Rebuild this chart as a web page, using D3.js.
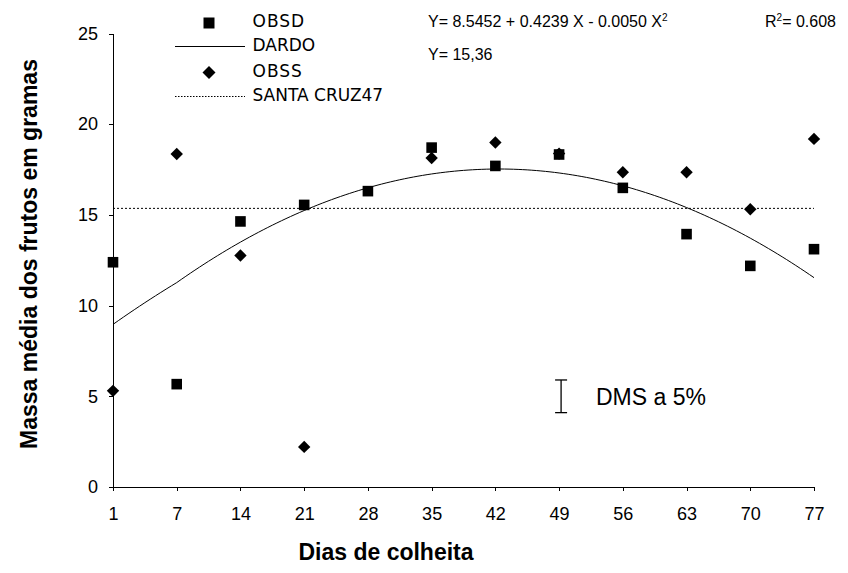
<!DOCTYPE html>
<html>
<head>
<meta charset="utf-8">
<script src="https://cdn.jsdelivr.net/npm/d3@7"></script>
<style>
  html, body { margin: 0; padding: 0; background: #fff; }
  svg { display: block; }
</style>
</head>
<body>
<svg id="chart" width="848" height="573"></svg>
<script>
// Harvest days (category axis) and observed mean fruit mass (g)
const days = [1, 7, 14, 21, 28, 35, 42, 49, 56, 63, 70, 77];
const obsd = [12.39, 5.67, 14.64, 15.55, 16.31, 18.71, 17.70, 18.33, 16.49, 13.94, 12.19, 13.11];
const obss = [5.30, 18.36, 12.76, 2.21, null, 18.14, 18.99, 18.38, 17.35, 17.35, 15.31, 19.19];

// Quadratic fit for DARDO: Y = a + bX + cX²
const fitCoef = [8.5452, 0.4239, -0.0050];
// Mean for SANTA CRUZ 47
const santaCruzMean = 15.36;
// Least significant difference (DMS) at 5%, and where its bar is centred
const dms = 1.8;
const dmsCenter = 5;
const dmsDay = 49;

const yTicks = [0, 5, 10, 15, 20, 25];

const svg = d3.select("#chart");
svg.append("rect").attr("width", 848).attr("height", 573).attr("fill", "#fff");

const x = d3.scalePoint().domain(days).range([113, 814]);
const y = d3.scaleLinear().domain([0, 25]).range([487, 33.5]);
// Map a (fractional) day onto the category positions
const xDay = d3.scaleLinear().domain(days).range(days.map(d => x(d)));

const arial = "'Liberation Sans', Arial, sans-serif";

// Axes
const yAxis = svg.append("g")
  .attr("transform", "translate(113,0)")
  .call(d3.axisLeft(y).tickValues(yTicks).tickSize(4).tickSizeOuter(0).tickPadding(11));
const xAxis = svg.append("g")
  .attr("transform", "translate(0,487)")
  .call(d3.axisBottom(x).tickSize(4).tickSizeOuter(0).tickPadding(16));
[yAxis, xAxis].forEach(g => {
  g.selectAll("path, line").attr("stroke", "#000").attr("stroke-width", 1).attr("shape-rendering", "crispEdges");
  g.selectAll("text").attr("fill", "#000").style("font-family", arial).style("font-size", "18px");
});

// SANTA CRUZ 47 mean (dotted)
svg.append("line")
  .attr("x1", x(days[0])).attr("x2", x(days[days.length - 1]))
  .attr("y1", y(santaCruzMean)).attr("y2", y(santaCruzMean))
  .attr("stroke", "#000").attr("stroke-width", 1)
  .attr("stroke-dasharray", "2,2");

// DARDO fitted curve
const fit = X => fitCoef[0] + fitCoef[1] * X + fitCoef[2] * X * X;
const curveX = d3.range(days[0], days[days.length - 1] + 0.001, 0.5);
svg.append("path")
  .datum(curveX)
  .attr("fill", "none").attr("stroke", "#000").attr("stroke-width", 1)
  .attr("d", d3.line().x(d => xDay(d)).y(d => y(fit(d))));

// Markers
const squarePath = s => `M${-s},${-s}H${s}V${s}H${-s}Z`;
const diamondPath = r => `M0,${-r}L${r},0L0,${r}L${-r},0Z`;

svg.append("g").selectAll("path")
  .data(days.map((d, i) => ({ d, v: obsd[i] })).filter(p => p.v != null))
  .join("path")
  .attr("transform", p => `translate(${x(p.d)},${y(p.v)})`)
  .attr("d", squarePath(5.3))
  .attr("fill", "#000");

svg.append("g").selectAll("path")
  .data(days.map((d, i) => ({ d, v: obss[i] })).filter(p => p.v != null))
  .join("path")
  .attr("transform", p => `translate(${x(p.d)},${y(p.v)})`)
  .attr("d", diamondPath(6.2))
  .attr("fill", "#000");

// DMS error bar
const bx = x(dmsDay) + 2;
const bTop = y(dmsCenter + dms / 2), bBot = y(dmsCenter - dms / 2);
const bar = svg.append("g").attr("stroke", "#000").attr("stroke-width", 1.3);
bar.append("line").attr("x1", bx).attr("x2", bx).attr("y1", bTop).attr("y2", bBot);
bar.append("line").attr("x1", bx - 6).attr("x2", bx + 6).attr("y1", bTop).attr("y2", bTop);
bar.append("line").attr("x1", bx - 6).attr("x2", bx + 6).attr("y1", bBot).attr("y2", bBot);
svg.append("text").attr("x", 596).attr("y", 405)
  .style("font-family", arial).style("font-size", "23px").text("DMS a 5%");

// Legend
const dejavu = "'DejaVu Sans', Verdana, sans-serif";
const leg = svg.append("g");
leg.append("path").attr("transform", "translate(209,23)").attr("d", squarePath(5.5)).attr("fill", "#000");
leg.append("line").attr("x1", 175).attr("x2", 245).attr("y1", 46.5).attr("y2", 46.5).attr("stroke", "#000");
leg.append("path").attr("transform", "translate(209,72.5)").attr("d", diamondPath(6.5)).attr("fill", "#000");
leg.append("line").attr("x1", 175).attr("x2", 245).attr("y1", 96.5).attr("y2", 96.5)
  .attr("stroke", "#000").attr("stroke-dasharray", "1.5,1.5");
const legendLabels = [
  { t: "OBSD", y: 27, ls: 1 },
  { t: "DARDO", y: 50.5, ls: 0 },
  { t: "OBSS", y: 77, ls: 1 },
  { t: "SANTA CRUZ47", y: 101, ls: 0 }
];
leg.selectAll("text").data(legendLabels).join("text")
  .attr("x", 252.5).attr("y", d => d.y)
  .style("font-family", dejavu).style("font-size", "17px")
  .style("letter-spacing", d => d.ls + "px")
  .text(d => d.t);

// Equations
const eq1 = svg.append("text").attr("x", 428).attr("y", 27)
  .style("font-family", arial).style("font-size", "16px");
eq1.append("tspan").text(`Y= ${fitCoef[0].toFixed(4)} + ${fitCoef[1].toFixed(4)} X - ${Math.abs(fitCoef[2]).toFixed(4)} X`);
eq1.append("tspan").attr("dy", -6).style("font-size", "10px").text("2");
const eq2 = svg.append("text").attr("x", 765).attr("y", 27)
  .style("font-family", arial).style("font-size", "16px");
eq2.append("tspan").text("R");
eq2.append("tspan").attr("dy", -6).style("font-size", "10px").text("2");
eq2.append("tspan").attr("dy", 6).text("= 0.608");
svg.append("text").attr("x", 428).attr("y", 59.5)
  .style("font-family", arial).style("font-size", "16px")
  .text("Y= " + santaCruzMean.toFixed(2).replace(".", ","));

// Axis titles
svg.append("text")
  .attr("transform", "translate(37,254) rotate(-90)")
  .attr("text-anchor", "middle")
  .style("font-family", arial).style("font-size", "23px").style("font-weight", "bold")
  .text("Massa média dos frutos em gramas");
svg.append("text")
  .attr("x", 386).attr("y", 560)
  .attr("text-anchor", "middle")
  .style("font-family", arial).style("font-size", "23px").style("font-weight", "bold")
  .text("Dias de colheita");
</script>
</body>
</html>
